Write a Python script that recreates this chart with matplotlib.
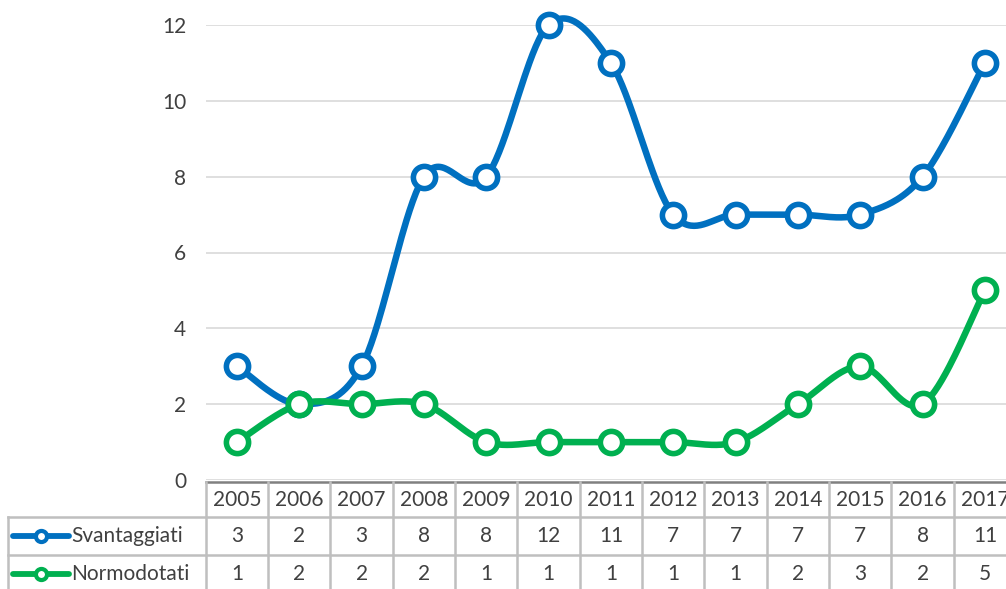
import numpy as np
import matplotlib
matplotlib.use("Agg")
import matplotlib.pyplot as plt

years = ["2005", "2006", "2007", "2008", "2009", "2010", "2011", "2012", "2013", "2014", "2015", "2016", "2017"]
svantaggiati = [3, 2, 3, 8, 8, 12, 11, 7, 7, 7, 7, 8, 11]
normodotati = [1, 2, 2, 2, 1, 1, 1, 1, 1, 2, 3, 2, 5]
series_names = ["Svantaggiati", "Normodotati"]
yticks = [0, 2, 4, 6, 8, 10, 12]

BLUE = "#0070C0"
GREEN = "#00B050"
TXT = "#404040"
FONT = "Lato"
FS = 15

W, H = 1006, 589
fig = plt.figure(figsize=(W / 100, H / 100), dpi=100)

L = 205.8          # left edge of plot area (px)
S = 62.33          # category width (px)
Y0 = 480.0         # y pixel of value 0
Y12 = 25.0         # y pixel of value 12
right_px = L + S * len(years)

ax = fig.add_axes([L / W, 1 - Y0 / H, (right_px - L) / W, (Y0 - Y12) / H])
ax.set_xlim(-0.5, len(years) - 0.5)
ax.set_ylim(0, 12)
for sp in ax.spines.values():
    sp.set_visible(False)
ax.set_xticks([])
ax.set_yticks(yticks)
ax.tick_params(axis="y", length=0, pad=14, labelsize=FS, labelcolor=TXT)
for lab in ax.get_yticklabels():
    lab.set_fontfamily(FONT)
ax.grid(axis="y", color="#D9D9D9", linewidth=1.2)
ax.set_axisbelow(True)


def smooth(xs, ys, n=40):
    xs = np.asarray(xs, float)
    ys = np.asarray(ys, float)
    P = np.column_stack([xs, ys])
    out = []
    for i in range(len(P) - 1):
        p0 = P[i - 1] if i > 0 else P[i]
        p1 = P[i]
        p2 = P[i + 1]
        p3 = P[i + 2] if i + 2 < len(P) else P[i + 1]
        c1 = p1 + (p2 - p0) / 6.0
        c2 = p2 - (p3 - p1) / 6.0
        t = np.linspace(0, 1, n)[:, None]
        seg = ((1 - t) ** 3) * p1 + 3 * ((1 - t) ** 2) * t * c1 + 3 * (1 - t) * t ** 2 * c2 + t ** 3 * p2
        out.append(seg if i == 0 else seg[1:])
    seg = np.vstack(out)
    return seg[:, 0], seg[:, 1]


x = np.arange(len(years))
for vals, col in [(svantaggiati, BLUE), (normodotati, GREEN)]:
    sx, sy = smooth(x, vals)
    ax.plot(sx, sy, color=col, linewidth=4.7, solid_capstyle="round", clip_on=False, zorder=3)
    ax.plot(x, vals, linestyle="none", marker="o", markersize=16, markerfacecolor="white",
            markeredgecolor=col, markeredgewidth=4.0, clip_on=False, zorder=4)

# ---- data table ----
axt = fig.add_axes([0, 0, 1, (H - Y0) / H])
axt.set_xlim(0, W)
axt.set_ylim(H, Y0)
axt.axis("off")

GRID = "#BFBFBF"
row_tops = [482, 517, 555]
row_bottom = 600
first_left = 8

# top (axis) line
axt.plot([L, W], [482, 482], color="#808080", linewidth=1.8, clip_on=False)
# horizontal lines
for yy in row_tops[1:]:
    axt.plot([first_left, W], [yy, yy], color=GRID, linewidth=1.8, clip_on=False)
# vertical lines
for i in range(len(years) + 1):
    xx = L + i * S
    axt.plot([xx, xx], [482, row_bottom], color=GRID, linewidth=1.8, clip_on=False)
axt.plot([first_left, first_left], [517, row_bottom], color=GRID, linewidth=1.8, clip_on=False)

centers = [(row_tops[0] + row_tops[1]) / 2, (row_tops[1] + row_tops[2]) / 2, (row_tops[2] + 593) / 2]
for i, yr in enumerate(years):
    cx = L + (i + 0.5) * S
    axt.text(cx, centers[0], yr, ha="center", va="center", fontsize=FS, color=TXT, family=FONT)
    axt.text(cx, centers[1], str(svantaggiati[i]), ha="center", va="center", fontsize=FS, color=TXT, family=FONT)
    axt.text(cx, centers[2], str(normodotati[i]), ha="center", va="center", fontsize=FS, color=TXT, family=FONT)

for name, col, cy in [(series_names[0], BLUE, centers[1]), (series_names[1], GREEN, centers[2])]:
    axt.plot([13, 69], [cy, cy], color=col, linewidth=4.2, solid_capstyle="round", clip_on=False)
    axt.plot([41], [cy], marker="o", markersize=8, markerfacecolor="white", markeredgecolor=col,
             markeredgewidth=3.0, clip_on=False)
    axt.text(71, cy, name, ha="left", va="center", fontsize=FS, color=TXT, family=FONT)

fig.savefig("out.png", dpi=100, facecolor="white")
